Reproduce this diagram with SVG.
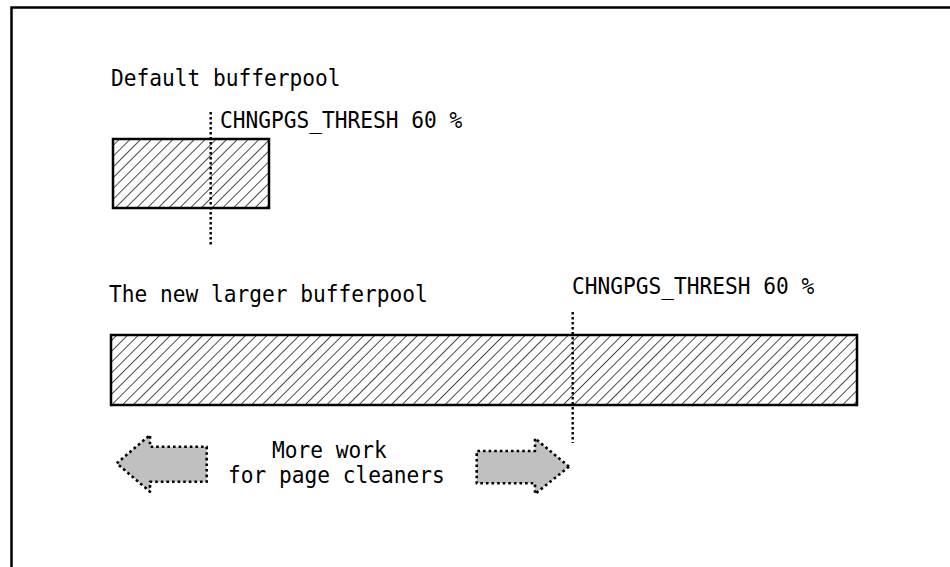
<svg xmlns="http://www.w3.org/2000/svg" width="950" height="567" viewBox="0 0 950 567">
  <style>
    .t { font-family: "DejaVu Sans Mono", "Liberation Mono", monospace; font-size: 22.5px; fill: #000; }
    .box { fill: url(#hatch); stroke: #000; stroke-width: 2.5; }
    .thresh { stroke: #000; stroke-width: 2.4; stroke-dasharray: 2.4 2.6; fill: none; }
    .arrow { fill: #c0c0c0; stroke: #000; stroke-width: 2.6; stroke-dasharray: 2.6 3; stroke-linejoin: round; }
  </style>
  <defs>
    <pattern id="hatch" patternUnits="userSpaceOnUse" width="7.6" height="10" patternTransform="rotate(45)">
      <rect width="7.6" height="10" fill="#fff"/>
      <line x1="0" y1="0" x2="0" y2="10" stroke="#000" stroke-width="1.4"/>
    </pattern>
  </defs>
  <rect width="950" height="567" fill="#fff"/>
  <path d="M11.5,567 V7.5 H950" fill="none" stroke="#000" stroke-width="2.5"/>

  <g id="default-pool">
    <text class="t" x="111" y="86" textLength="229.5" lengthAdjust="spacingAndGlyphs">Default bufferpool</text>
    <rect class="box" x="113" y="139" width="156" height="69"/>
  </g>
  <g id="default-thresh">
    <line class="thresh" x1="210.7" y1="112" x2="210.7" y2="245"/>
    <text class="t" x="220" y="128" textLength="242.25" lengthAdjust="spacingAndGlyphs">CHNGPGS_THRESH 60 %</text>
  </g>

  <g id="large-pool">
    <text class="t" x="109" y="302" textLength="318.75" lengthAdjust="spacingAndGlyphs">The new larger bufferpool</text>
    <rect class="box" x="111" y="335" width="746" height="70"/>
  </g>
  <g id="large-thresh">
    <line class="thresh" x1="572.7" y1="312" x2="572.7" y2="443"/>
    <text class="t" x="572" y="294" textLength="242.25" lengthAdjust="spacingAndGlyphs">CHNGPGS_THRESH 60 %</text>
  </g>

  <g id="connectors">
    <path id="arrow-left" class="arrow" d="M116.7,463.3 L150,435 L150,446.7 L206.7,446.7 L206.7,481.7 L150,481.7 L150,491.7 Z"/>
    <path id="arrow-right" class="arrow" d="M569,466.7 L535,438.3 L535,451 L476.7,451 L476.7,483.3 L535,483.3 L535,494 Z"/>
  </g>

  <g id="label">
    <text class="t" x="272" y="458" textLength="114.75" lengthAdjust="spacingAndGlyphs">More work</text>
    <text class="t" x="228" y="483" textLength="216.75" lengthAdjust="spacingAndGlyphs">for page cleaners</text>
  </g>
</svg>
